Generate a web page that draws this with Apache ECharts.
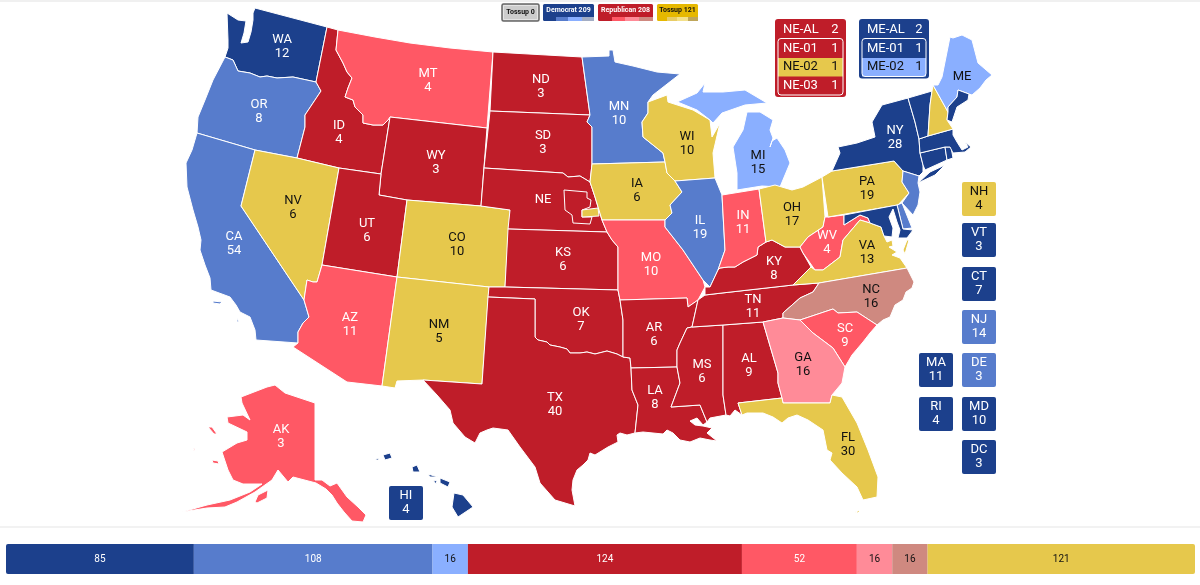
<!DOCTYPE html>
<html>
<head>
<meta charset="utf-8">
<style>
  html, body { margin: 0; padding: 0; background: #fff; }
  #chart { width: 1200px; height: 585px; }
</style>
<script src="https://cdn.jsdelivr.net/npm/echarts@6/dist/echarts.min.js"></script>
</head>
<body>
<div id="chart"></div>
<script>
const FONT = 'Roboto'

// ratings
const ratingColors = {
  safeD: '#1c408c', likelyD: '#577ccc', leanD: '#8aafff',
  safeR: '#bf1d29', likelyR: '#ff5865', leanR: '#ff8b98', tiltR: '#cf8980',
  toss: '#e6c84c'
}
const darkText = ['leanD', 'leanR', 'tiltR', 'toss']

const stateCodes = ['WA', 'OR', 'CA', 'NV', 'ID', 'MT', 'WY', 'UT', 'CO', 'AZ', 'NM', 'ND', 'SD', 'NE', 'KS', 'OK', 'TX',
  'MN', 'IA', 'MO', 'AR', 'LA', 'WI', 'IL', 'MS', 'AL', 'TN', 'KY', 'IN', 'MI', 'OH', 'WV', 'VA', 'NC', 'SC', 'GA', 'FL',
  'PA', 'NY', 'NJ', 'DE', 'MD', 'CT', 'RI', 'MA', 'VT', 'NH', 'ME', 'AK', 'HI']
const stateVotes = [12, 8, 54, 6, 4, 4, 3, 6, 10, 11, 5, 3, 3, null, 6, 7, 40,
  10, 6, 10, 6, 8, 10, 19, 6, 9, 11, 8, 11, 15, 17, 4, 13, 16, 9, 16, 30,
  19, 28, 14, 3, 10, 7, 4, 11, 3, 4, null, 3, 4]
const stateRatings = ['safeD', 'likelyD', 'likelyD', 'toss', 'safeR', 'likelyR', 'safeR', 'safeR', 'toss', 'likelyR', 'toss', 'safeR', 'safeR', 'safeR', 'safeR', 'safeR', 'safeR',
  'likelyD', 'toss', 'likelyR', 'safeR', 'safeR', 'toss', 'likelyD', 'safeR', 'safeR', 'safeR', 'safeR', 'likelyR', 'leanD', 'toss', 'likelyR', 'toss', 'tiltR', 'likelyR', 'leanR', 'toss',
  'toss', 'safeD', 'likelyD', 'likelyD', 'safeD', 'safeD', 'safeD', 'safeD', 'safeD', 'toss', 'leanD', 'likelyR', 'safeD']

// small states shown as chips
const chipCodes = ['NH', 'VT', 'CT', 'NJ', 'DE', 'MA', 'RI', 'MD', 'DC', 'HI']
const dcVotes = 3

// stacked bar at the bottom
const barValues = [85, 108, 16, 124, 52, 16, 16, 121]
const barRatings = ['safeD', 'likelyD', 'leanD', 'safeR', 'likelyR', 'leanR', 'tiltR', 'toss']

// legend chips on top
const legendNames = ['Tossup', 'Democrat', 'Republican', 'Tossup']
const legendTotals = [0, 209, 208, 121]

// split electoral vote panels
const neRows = ['NE-AL', 'NE-01', 'NE-02', 'NE-03']
const neVotes = [2, 1, 1, 1]
const neRatings = ['safeR', 'safeR', 'toss', 'safeR']
const meRows = ['ME-AL', 'ME-01', 'ME-02']
const meVotes = [2, 1, 1]
const meRatings = ['safeD', 'safeD', 'leanD']

// state outlines, in map units, '|' starts another island
const outlines = {
  WA: '255,8 327,27 316,82 293,77 277,78 267,76 260,77 250,73 238,71 233,60 225,57 228,48 228,40 227,13 238,20 246,21 244,33 241,43 248,42 251,32 253,20 253,13',
  OR: '225,57 233,60 238,71 250,73 260,77 267,76 277,78 293,77 316,82 321,91 305,115 305,127 297,158 255,150 197,133 198,117 205,100 213,80',
  CA: '197,133 255,150 241,206 304,300 309,317 303,323 298,332 298,343 256,340 255,330 250,317 240,312 236,305 230,297 211,290 210,278 205,265 200,250 201,240 198,227 193,210 187,187 186,163 192,150|213,301 222,302 220,304 213,303|237,318 239,322 237,322',
  ID: '327,27 338,30 336,50 343,63 347,72 352,78 348,88 345,97 353,100 355,107 363,115 363,123 373,125 383,125 388,120 390,117 381,174 339,168 297,158 305,127 305,115 321,91 316,82',
  MT: '338,30 375,37 410,43 450,48 493,52 487,128 390,117 388,120 383,125 373,125 363,123 363,115 355,107 353,100 345,97 348,88 352,78 347,72 343,63 336,50',
  WY: '390,117 487,128 481,206 407,200 379,195 381,174',
  NV: '255,150 297,158 339,168 322,265 317,282 313,282 307,280 304,300 241,206',
  UT: '339,168 381,174 379,195 407,200 397,277 322,265',
  CO: '407,200 481,206 510,210 505,287 489,287 397,277',
  AZ: '322,265 397,277 382,386 347,382 293,347 298,343 298,332 303,323 309,317 304,300 307,280 313,282 317,282',
  NM: '397,277 489,287 482,384 423,380 397,381 395,388 382,386',
  ND: '493,52 582,57 590,115 490,111',
  SD: '490,111 590,115 587,122 592,127 592,164 590,182 580,176 568,177 563,173 484,168',
  NE: '484,168 563,173 568,177 580,176 590,182 595,197 602,220 607,232 508,229 510,210 481,206',
  'NE-01': '564,190 587,192 587,198 591,200 590,207 582,210 582,217 592,217 590,224 573,223 572,215 565,210',
  'NE-02': '582,210 598,208 599,216 582,217',
  KS: '508,229 607,232 612,240 618,247 618,290 505,287',
  OK: '489,287 505,287 618,290 620,300 623,320 623,357 617,354 607,351 595,354 587,352 580,353 570,353 567,349 560,347 550,345 547,342 538,340 535,337 535,299 488,297',
  TX: '488,297 535,299 535,337 538,340 547,342 550,345 560,347 567,349 570,353 580,353 587,352 595,354 607,351 617,354 623,357 630,358 631,368 632,390 638,405 635,433 627,435 620,433 617,435 618,442 608,447 595,455 590,453 588,460 583,465 577,470 573,480 572,490 575,506 555,500 540,483 535,467 520,447 508,430 493,428 487,430 480,433 475,443 465,437 453,423 450,410 437,395 423,380 482,384',
  MN: '582,57 609,56 609,50 613,50 615,62 633,66 657,72 680,74 653,95 648,102 648,113 642,122 643,137 663,153 665,162 592,164 592,127 587,122 590,115',
  IA: '592,164 665,162 667,173 675,181 682,192 670,205 672,213 665,220 602,220 595,197 590,182',
  MO: '602,220 665,220 665,227 683,250 703,280 705,287 698,300 688,307 687,298 620,300 618,290 618,247 612,240 607,232',
  AR: '620,300 687,298 688,307 698,300 692,327 687,328 680,343 677,350 677,360 677,367 631,368 630,358 623,357 623,320',
  LA: '631,368 677,367 680,383 671,407 700,405 707,422 703,425 697,418 690,421 695,425 703,426 712,428 707,433 717,441 710,440 700,438 690,442 680,440 673,433 667,430 663,434 643,432 635,433 638,405 632,390',
  WI: '648,102 667,95 668,102 693,110 710,120 712,137 720,123 713,153 715,178 675,181 667,173 665,162 663,153 643,137 642,122 648,113',
  IL: '675,181 715,178 722,195 725,250 718,270 710,287 703,280 683,250 665,227 665,220 672,213 670,205 682,192',
  MS: '692,327 723,325 723,395 726,415 710,418 707,422 700,405 671,407 680,383 677,367 677,360 677,350 680,343 687,328',
  AL: '723,325 763,322 778,373 778,383 782,398 738,403 742,415 735,410 730,416 726,415 723,395',
  TN: '705,295 722,293 793,285 819,283 813,292 800,298 783,313 783,318 763,322 723,325 692,327 698,300',
  KY: '720,268 728,267 735,267 743,262 757,255 758,247 766,242 772,240 785,247 800,247 803,253 811,267 793,285 722,293 705,295 705,287 710,287 718,270',
  IN: '722,195 759,189 766,242 758,247 757,255 743,262 735,267 728,267 720,268 718,270 725,250',
  MI: '737,190 762,186 780,187 790,163 785,150 777,138 772,141 770,147 773,138 770,130 773,120 760,112 747,112 743,130 733,147 737,173|677,102 697,93 705,83 703,92 723,92 745,90 767,103 745,105 722,113 713,123 710,120 697,110 680,103',
  OH: '759,189 775,185 792,190 803,187 822,177 825,217 823,227 808,237 800,247 785,247 772,240 766,242',
  WV: '825,217 828,217 844,215 844,225 860,215 868,218 870,223 860,220 843,240 840,257 823,270 815,270 803,253 800,247 808,237 823,227',
  VA: '793,285 811,267 815,270 823,270 840,257 843,240 860,220 870,223 881,227 884,236 887,242 892,240 893,246 889,247 897,252 892,255 900,258 907,268 819,283|907,240 909,240 905,254 903,250',
  NC: '819,283 907,268 914,282 912,288 906,292 903,300 895,305 890,317 883,320 877,325 857,312 838,313 833,309 800,320 783,318 783,313 800,298 813,292',
  SC: '800,320 833,309 838,313 857,312 877,325 870,333 863,342 852,355 845,367 833,348 813,333',
  GA: '763,322 783,318 800,320 813,333 833,348 845,367 842,383 832,395 830,403 783,403 782,398 778,383 778,373',
  FL: '738,403 782,398 783,403 830,403 832,395 842,397 857,423 868,450 878,477 877,497 863,500 857,487 842,473 830,460 832,453 827,450 823,430 808,420 797,415 788,418 782,423 773,417 763,413 747,413 742,415|855,512 861,510 858,513',
  PA: '822,177 832,171 894,161 903,171 902,182 909,193 898,205 828,217',
  NY: '908,98 915,122 919,139 920,153 923,165 923,172 919,176 903,171 894,161 832,171 840,153 838,147 857,143 875,137 872,122 882,105|918,183 930,172 945,165 947,163 935,175',
  NJ: '903,171 919,176 918,183 920,192 918,205 913,215 902,203 909,193 902,182',
  DE: '897,205 902,203 912,228 903,229',
  MD: '844,215 897,205 903,229 913,230 907,238 898,238 900,230 897,222 893,209 889,217 893,228 892,237 884,236 881,227 870,223 868,218 860,215 844,225',
  CT: '920,153 945,147 947,160 925,170 923,165',
  RI: '945,147 951,147 953,158 947,160',
  MA: '919,139 928,136 953,129 953,135 957,142 962,150 968,147 965,142 971,147 965,152 953,153 950,147 945,147 920,153',
  VT: '908,98 932,91 930,105 928,136 919,139 915,122',
  NH: '933,85 948,112 947,120 953,129 928,136 930,105 932,91',
  ME: '933,85 938,85 942,77 950,37 953,38 962,35 972,40 978,63 992,75 986,80 980,88 972,95 969,94 958,90 957,97 948,107 948,112',
  'ME-01': '948,107 957,97 958,90 969,94 968,100 957,107 952,122 947,120 948,112',
  AK: '241,397 267,387 275,385 285,393 315,403 315,480 322,480 330,486 337,483 347,497 358,507 366,515 363,522 352,521 344,512 337,503 332,495 326,489 316,483 293,477 288,482 278,470 272,480 255,492 237,502 225,507 207,508 182,512 207,505 230,500 250,492 262,484 243,484 233,480 228,470 222,452 237,443 247,440 247,432 228,423 227,417 243,415 250,420 242,403|208,427 212,427 217,434 214,434|212,460 218,461 219,464 213,463|255,502 258,495 268,490 267,498 257,503|193,448 195,449 194,451',
  HI: '454,493 463,495 473,507 458,517 452,507|440,478 450,482 448,487 440,483|428,474 438,477 430,477|433,480 437,481 436,484|412,467 417,465 420,472 413,472|383,455 390,453 392,458 385,460|375,460 378,458 379,460'
}

// where each state's name sits on the map
const labelAt = {
  WA: [282, 47], OR: [259, 112], CA: [234, 244], NV: [293, 208], ID: [339, 133], MT: [428, 81], WY: [436, 163],
  UT: [367, 231], CO: [457, 245], AZ: [350, 325], NM: [439, 332], ND: [541, 87], SD: [543, 143], NE: [543, 200],
  KS: [563, 260], OK: [581, 320], TX: [555, 405], MN: [619, 114], IA: [637, 191], MO: [651, 265], AR: [654, 335],
  LA: [655, 398], WI: [687, 144], IL: [700, 228], MS: [702, 372], AL: [749, 366], TN: [753, 307], KY: [774, 269],
  IN: [743, 223], MI: [758, 163], OH: [792, 215], WV: [827, 243], VA: [867, 253], NC: [871, 297], SC: [845, 336],
  GA: [803, 365], FL: [848, 445], PA: [867, 189], NY: [895, 138], ME: [962, 77], AK: [281, 437]
}
const chipAt = {
  NH: [979, 199], VT: [979, 240], CT: [979, 284], NJ: [979, 327], DE: [979, 370],
  MA: [936, 370], RI: [936, 414], MD: [979, 414], DC: [979, 457], HI: [406, 503]
}

function toRing(text) {
  return text.trim().split(' ').map(p => {
    const xy = p.split(',')
    return [+xy[0], -xy[1]]
  })
}

const features = Object.keys(outlines).map(name => ({
  type: 'Feature',
  properties: {
    name,
    cp: labelAt[name] ? [labelAt[name][0], -labelAt[name][1]] : undefined
  },
  geometry: {
    type: 'MultiPolygon',
    coordinates: outlines[name].split('|').map(part => [toRing(part)])
  }
}))
echarts.registerMap('us', { type: 'FeatureCollection', features })

function ratingOf(code) {
  if (code === 'DC') return 'safeD'
  return stateRatings[stateCodes.indexOf(code)]
}
function textColor(rating) {
  return darkText.includes(rating) ? '#111' : '#fff'
}
function labelText(code) {
  const v = code === 'DC' ? dcVotes : stateVotes[stateCodes.indexOf(code)]
  return v === null ? code : code + '\n' + v
}

const regions = stateCodes.map(code => ({
  name: code,
  itemStyle: { areaColor: ratingColors[ratingOf(code)] },
  label: {
    show: !chipCodes.includes(code),
    color: textColor(ratingOf(code)),
    formatter: labelText(code)
  }
}))
regions.push(
  { name: 'NE-01', itemStyle: { areaColor: ratingColors[neRatings[1]] }, label: { show: false } },
  { name: 'NE-02', itemStyle: { areaColor: ratingColors[neRatings[2]] }, label: { show: false } },
  { name: 'ME-01', itemStyle: { areaColor: ratingColors[meRatings[1]] }, label: { show: false } }
)

const chipData = chipCodes.map(code => ({
  value: [chipAt[code][0], -chipAt[code][1]],
  name: code,
  itemStyle: { color: ratingColors[ratingOf(code)], opacity: 1 },
  label: { color: textColor(ratingOf(code)), formatter: labelText(code) }
}))

// one bar series per rating, stacked
const barSeries = barValues.map((v, i) => ({
  type: 'bar',
  stack: 'total',
  barWidth: 30,
  data: [v],
  silent: true,
  itemStyle: {
    color: ratingColors[barRatings[i]],
    borderRadius: i === 0 ? [2, 0, 0, 2] : i === barValues.length - 1 ? [0, 2, 2, 0] : 0
  },
  label: {
    show: true,
    position: 'inside',
    fontFamily: FONT,
    fontSize: 10,
    color: textColor(barRatings[i])
  }
}))

// legend chips
const legendBoxes = [
  { x: 502, w: 37, fill: '#cccccc', stripes: [] },
  { x: 543, w: 51, fill: ratingColors.safeD, stripes: [[556, 12, ratingColors.likelyD], [568, 14, ratingColors.leanD], [582, 12, '#a3adc4']] },
  { x: 598, w: 55, fill: ratingColors.safeR, stripes: [[612, 13, ratingColors.likelyR], [625, 14, ratingColors.leanR], [639, 14, ratingColors.tiltR]] },
  { x: 657, w: 41, fill: '#e6b800', stripes: [[667, 10, '#e8cc66'], [677, 11, '#f3e08a'], [688, 10, '#bfa65a']] }
]
const graphics = [
  { type: 'rect', shape: { x: 0, y: 0, width: 1200, height: 2 }, style: { fill: '#f0f0f0' }, silent: true },
  { type: 'rect', shape: { x: 0, y: 526, width: 1200, height: 2 }, style: { fill: '#f2f2f2' }, silent: true }
]
legendBoxes.forEach((b, i) => {
  graphics.push({
    type: 'rect',
    shape: { x: b.x, y: 4, width: b.w, height: 17, r: 1.5 },
    style: { fill: b.fill, stroke: i === 0 ? '#666' : null, lineWidth: i === 0 ? 1.5 : 0 },
    silent: true
  })
  if (i === 0) {
    graphics.push({
      type: 'rect',
      shape: { x: b.x + 1.5, y: 5.5, width: b.w - 3, height: 14 },
      style: { fill: 'none', stroke: '#eee', lineWidth: 0.7 },
      silent: true
    })
  }
  b.stripes.forEach(s => {
    graphics.push({ type: 'rect', shape: { x: s[0], y: 17, width: s[1], height: 4 }, style: { fill: s[2] }, silent: true })
  })
  graphics.push({
    type: 'text',
    x: b.x + b.w / 2,
    y: i === 0 ? 12.5 : 10.5,
    style: {
      text: legendNames[i] + ' ' + legendTotals[i],
      fontFamily: FONT,
      fontSize: 7,
      fontWeight: 'bold',
      fill: i === 0 || i === 3 ? '#111' : '#fff',
      align: 'center',
      verticalAlign: 'middle'
    },
    silent: true
  })
})

// panels for the states that split their votes
function pushPanel(x, w, names, votes, ratings) {
  const rowH = 18.5
  const h = rowH * names.length + 4
  graphics.push({
    type: 'rect',
    shape: { x, y: 19, width: w, height: h, r: 3 },
    style: { fill: ratingColors[ratings[0]] },
    silent: true
  })
  names.forEach((name, i) => {
    const cy = 30 + (i === 0 ? 0 : 18.5 + (i - 1) * 18.5)
    if (i > 0 && ratings[i] !== ratings[0]) {
      graphics.push({
        type: 'rect',
        shape: { x: x + 3, y: cy - 9, width: w - 6, height: 18.5 },
        style: { fill: ratingColors[ratings[i]] },
        silent: true
      })
    }
    const common = { fontFamily: FONT, fontSize: 13, fill: textColor(ratings[i]), verticalAlign: 'middle' }
    graphics.push({ type: 'text', x: x + 8, y: cy, style: { ...common, text: name, align: 'left' }, silent: true })
    graphics.push({ type: 'text', x: x + 60, y: cy, style: { ...common, text: String(votes[i]), align: 'center' }, silent: true })
  })
  graphics.push({
    type: 'rect',
    shape: { x: x + 3, y: 38.5, width: w - 6, height: rowH * (names.length - 1) + 1, r: 3 },
    style: { fill: 'none', stroke: '#fff', lineWidth: 1 },
    silent: true
  })
}
pushPanel(775, 71, neRows, neVotes, neRatings)
pushPanel(859, 70, meRows, meVotes, meRatings)

const chart = echarts.init(document.getElementById('chart'), null, { renderer: 'canvas' })
chart.setOption({
  animation: false,
  textStyle: { fontFamily: FONT },
  graphic: { elements: graphics },
  geo: {
    map: 'us',
    roam: false,
    silent: true,
    aspectScale: 1,
    boundingCoords: [[0, 0], [1200, -585]],
    left: 0,
    top: 0,
    width: 1200,
    height: 585,
    label: { show: true, fontFamily: FONT, fontSize: 13, lineHeight: 14 },
    itemStyle: { borderColor: '#fff', borderWidth: 1, areaColor: '#ccc' },
    regions
  },
  grid: { left: 6, top: 544, width: 1189, height: 30 },
  xAxis: { type: 'value', min: 0, max: 538, show: false },
  yAxis: { type: 'category', data: ['votes'], show: false },
  series: [
    {
      type: 'scatter',
      coordinateSystem: 'geo',
      symbol: 'path://M2 0H32Q34 0 34 2V32Q34 34 32 34H2Q0 34 0 32V2Q0 0 2 0Z',
      symbolSize: 34,
      silent: true,
      data: chipData,
      label: {
        show: true,
        position: 'inside',
        fontFamily: FONT,
        fontSize: 13,
        lineHeight: 14
      }
    }
  ].concat(barSeries)
})
</script>
</body>
</html>
